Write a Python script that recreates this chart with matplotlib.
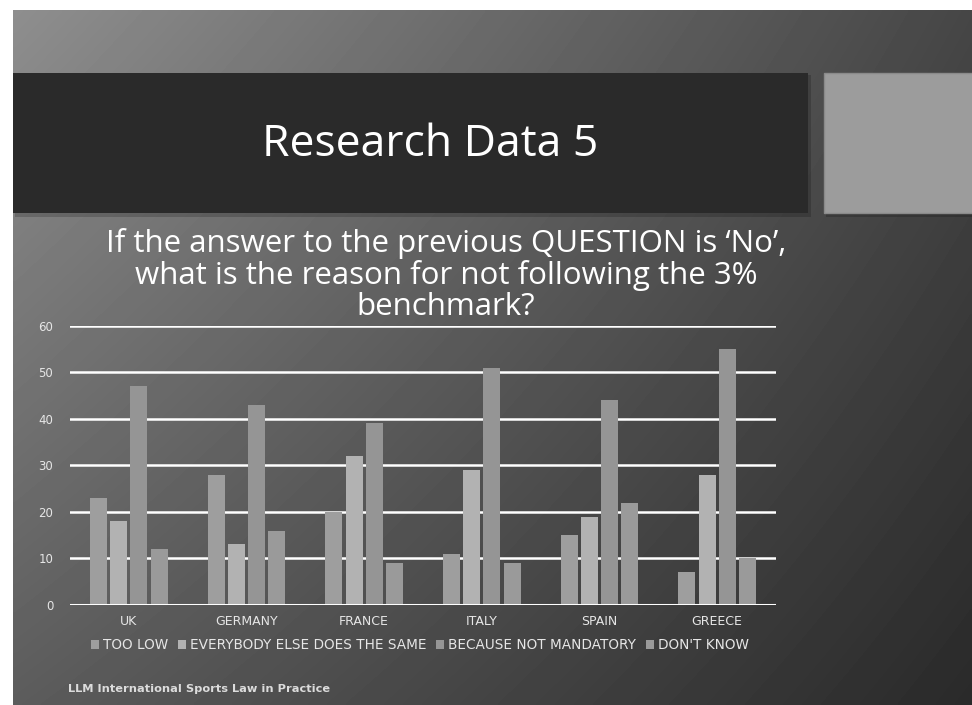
import numpy as np
import matplotlib
matplotlib.use("Agg")
import matplotlib.pyplot as plt
from matplotlib.patches import Rectangle, Patch

# ---- data ----
countries = ["UK", "GERMANY", "FRANCE", "ITALY", "SPAIN", "GREECE"]
series_names = ["TOO LOW", "EVERYBODY ELSE DOES THE SAME",
                "BECAUSE NOT MANDATORY", "DON'T KNOW"]
too_low = [23, 28, 20, 11, 15, 7]
everybody_else = [18, 13, 32, 29, 19, 28]
not_mandatory = [47, 43, 39, 51, 44, 55]
dont_know = [12, 16, 9, 9, 22, 10]
y_ticks = [0, 10, 20, 30, 40, 50, 60]

series = [too_low, everybody_else, not_mandatory, dont_know]
colors = ["#9e9e9e", "#b2b2b2", "#959595", "#9a9a9a"]

W, H = 972, 705
fig = plt.figure(figsize=(W / 100, H / 100), dpi=100, facecolor="white")

# ---- slide background ----
bg = fig.add_axes([0, 0, 1, 1])
bg.set_xlim(0, W)
bg.set_ylim(H, 0)
bg.axis("off")
xs = np.linspace(0, 1, 200)
ys = np.linspace(0, 1, 200)
X, Y = np.meshgrid(xs, ys)
tl, tr, bl, br = 142, 70, 92, 42
V = (tl * (1 - X) * (1 - Y) + tr * X * (1 - Y) + bl * (1 - X) * Y + br * X * Y) / 255.0
bg.imshow(V, cmap="gray", vmin=0, vmax=1, extent=[13, W, H, 10],
          aspect="auto", interpolation="bilinear", zorder=0)

# shadow + title band
bg.add_patch(Rectangle((15, 75), 796, 142, color="#000000", alpha=0.18, lw=0, zorder=1))
bg.add_patch(Rectangle((13, 73), 795, 140, color="#2a2a2a", lw=0, zorder=2))
bg.add_patch(Rectangle((826, 75), 150, 142, color="#000000", alpha=0.18, lw=0, zorder=1))
bg.add_patch(Rectangle((824, 73), 150, 140, facecolor="#9c9c9c", edgecolor="#8a8a8a", lw=1, zorder=2))
bg.text(430, 145, "Research Data 5", color="white", fontsize=32, family="Open Sans",
        ha="center", va="center", zorder=3)

sub = "If the answer to the previous QUESTION is \u2018No\u2019,\nwhat is the reason for not following the 3%\nbenchmark?"
bg.text(446, 275, sub, color="white", fontsize=22.5, family="Open Sans",
        ha="center", va="center", linespacing=1.03, zorder=3)

bg.text(68, 689, "LLM International Sports Law in Practice", color="#dcdcdc",
        fontsize=8.2, family="DejaVu Sans", fontweight="bold", ha="left", va="center", zorder=3)

# ---- chart ----
left, right, top, bottom = 70, 776, 325.7, 605
ax = fig.add_axes([left / W, (H - bottom) / H, (right - left) / W, (bottom - top) / H])
ax.patch.set_alpha(0)
x = np.arange(len(countries))
step = 0.172
width = 0.145
for i, (vals, c) in enumerate(zip(series, colors)):
    ax.bar(x + (i - 1.5) * step, vals, width=width, color=c, zorder=3, label=series_names[i])
ax.set_xlim(-0.5, len(countries) - 0.5)
ax.set_ylim(0, 60)
ax.set_yticks(y_ticks)
for t in y_ticks:
    ax.axhline(t, color="white", lw=1.8 if t else 2.2, zorder=2 if t else 4)
for s in ax.spines.values():
    s.set_visible(False)
ax.tick_params(axis="both", length=0, colors="#e6e6e6", labelsize=8.5, pad=12)
ax.tick_params(axis="x", pad=7)
ax.set_xticks(x)
ax.set_xticklabels(countries, family="DejaVu Sans", fontsize=9)
for lab in ax.get_yticklabels():
    lab.set_family("DejaVu Sans")

handles = [Patch(facecolor=c, edgecolor="none") for c in colors]
leg = fig.legend(handles, series_names, loc="center", bbox_to_anchor=(420 / W, (H - 645) / H),
                 ncol=4, frameon=False, handlelength=0.6, handleheight=0.6,
                 handletextpad=0.3, columnspacing=0.7,
                 prop={"family": "DejaVu Sans", "size": 9.8})
for t in leg.get_texts():
    t.set_color("#e6e6e6")

fig.savefig("out.png", dpi=100, facecolor="white")
